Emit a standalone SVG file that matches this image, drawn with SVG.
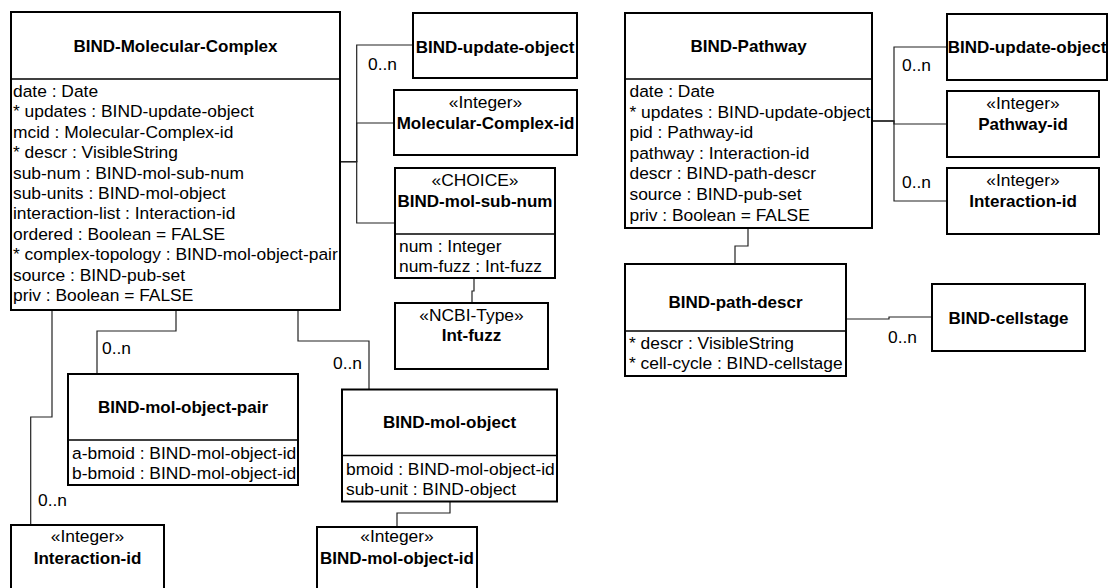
<svg xmlns="http://www.w3.org/2000/svg" width="1109" height="588" viewBox="0 0 1109 588">
<style>
.box{fill:#fff;stroke:#000;stroke-width:2}
.dv{stroke:#000;stroke-width:1.6}
.conn path{fill:none;stroke:#222;stroke-width:1.2}
text{font-family:"Liberation Sans",Arial,Helvetica,sans-serif;font-size:17.4px;fill:#000}
.b{font-weight:bold;font-size:17px;text-anchor:middle}
.c{text-anchor:middle}
</style>
<rect x="0" y="0" width="1109" height="588" fill="#fff"/>
<g id="connectors" class="conn">
<path d="M340,161.7H356.7V45H413"/>
<path d="M340,161.7H356.7V123H394"/>
<path d="M340,161.7H356.7V223H395"/>
<path d="M474,278V291H472V303"/>
<path d="M52,310V417H30.7V525"/>
<path d="M176,310V331H97V374"/>
<path d="M298,310V341H369V389.5"/>
<path d="M450,501.5V513H397V527"/>
<path d="M872,121H894V47H947"/>
<path d="M872,121H894V124H947"/>
<path d="M872,121H894V201H947"/>
<path d="M748,228V246H735V264"/>
<path d="M846,319H889V317H932"/>
</g>
<g id="labels">
<text x="368" y="70">0..n</text>
<text x="102" y="354">0..n</text>
<text x="333" y="369">0..n</text>
<text x="38" y="506">0..n</text>
<text x="902" y="71">0..n</text>
<text x="902" y="188">0..n</text>
<text x="888" y="343">0..n</text>
</g>
<g id="bind-molecular-complex">
<rect class="box" x="11" y="12" width="329" height="298"/>
<line class="dv" x1="11" y1="79" x2="340" y2="79"/>
<text class="b" x="175.5" y="52">BIND-Molecular-Complex</text>
<text x="13" y="97">date : Date</text>
<text x="13" y="117.4">* updates : BIND-update-object</text>
<text x="13" y="137.8">mcid : Molecular-Complex-id</text>
<text x="13" y="158.2">* descr : VisibleString</text>
<text x="13" y="178.6">sub-num : BIND-mol-sub-num</text>
<text x="13" y="199">sub-units : BIND-mol-object</text>
<text x="13" y="219.4">interaction-list : Interaction-id</text>
<text x="13" y="239.8">ordered : Boolean = FALSE</text>
<text x="13" y="260.2">* complex-topology : BIND-mol-object-pair</text>
<text x="13" y="280.6">source : BIND-pub-set</text>
<text x="13" y="301">priv : Boolean = FALSE</text>
</g>
<g id="bind-update-object-1">
<rect class="box" x="413" y="13" width="164" height="65"/>
<text class="b" x="495" y="52.5">BIND-update-object</text>
</g>
<g id="molecular-complex-id">
<rect class="box" x="394" y="90" width="183" height="65"/>
<text class="c" x="485.5" y="107.5">«Integer»</text>
<text class="b" x="485.5" y="129">Molecular-Complex-id</text>
</g>
<g id="bind-mol-sub-num">
<rect class="box" x="395" y="168" width="160" height="110"/>
<line class="dv" x1="395" y1="234" x2="555" y2="234"/>
<text class="c" x="475" y="185.5">«CHOICE»</text>
<text class="b" x="475" y="206.5">BIND-mol-sub-num</text>
<text x="399" y="252">num : Integer</text>
<text x="399" y="272">num-fuzz : Int-fuzz</text>
</g>
<g id="int-fuzz">
<rect class="box" x="395" y="303" width="153" height="66"/>
<text class="c" x="471.5" y="320.5">«NCBI-Type»</text>
<text class="b" x="471.5" y="341">Int-fuzz</text>
</g>
<g id="bind-mol-object-pair">
<rect class="box" x="68" y="374" width="230" height="111"/>
<line class="dv" x1="68" y1="440" x2="298" y2="440"/>
<text class="b" x="183" y="413">BIND-mol-object-pair</text>
<text x="72" y="458.5">a-bmoid : BIND-mol-object-id</text>
<text x="72" y="478.5">b-bmoid : BIND-mol-object-id</text>
</g>
<g id="bind-mol-object">
<rect class="box" x="342" y="389.5" width="215" height="112"/>
<line class="dv" x1="342" y1="455.5" x2="557" y2="455.5"/>
<text class="b" x="449.5" y="428">BIND-mol-object</text>
<text x="346" y="474.5">bmoid : BIND-mol-object-id</text>
<text x="346" y="494.5">sub-unit : BIND-object</text>
</g>
<g id="interaction-id-1">
<rect class="box" x="11" y="525" width="153" height="72"/>
<text class="c" x="87.5" y="542">«Integer»</text>
<text class="b" x="87.5" y="564">Interaction-id</text>
</g>
<g id="bind-mol-object-id">
<rect class="box" x="317" y="527" width="160" height="72"/>
<text class="c" x="397" y="542">«Integer»</text>
<text class="b" x="397" y="564">BIND-mol-object-id</text>
</g>
<g id="bind-pathway">
<rect class="box" x="625" y="13" width="247" height="215"/>
<line class="dv" x1="625" y1="79" x2="872" y2="79"/>
<text class="b" x="748.5" y="52">BIND-Pathway</text>
<text x="629.5" y="97">date : Date</text>
<text x="629.5" y="117.6">* updates : BIND-update-object</text>
<text x="629.5" y="138.2">pid : Pathway-id</text>
<text x="629.5" y="158.8">pathway : Interaction-id</text>
<text x="629.5" y="179.4">descr : BIND-path-descr</text>
<text x="629.5" y="200">source : BIND-pub-set</text>
<text x="629.5" y="220.6">priv : Boolean = FALSE</text>
</g>
<g id="bind-update-object-2">
<rect class="box" x="947" y="14" width="160" height="66"/>
<text class="b" x="1027" y="53">BIND-update-object</text>
</g>
<g id="pathway-id">
<rect class="box" x="947" y="91" width="152" height="66"/>
<text class="c" x="1023" y="108.5">«Integer»</text>
<text class="b" x="1023" y="129.5">Pathway-id</text>
</g>
<g id="interaction-id-2">
<rect class="box" x="947" y="168" width="152" height="66"/>
<text class="c" x="1023" y="185.5">«Integer»</text>
<text class="b" x="1023" y="206.5">Interaction-id</text>
</g>
<g id="bind-path-descr">
<rect class="box" x="625" y="264" width="221" height="112"/>
<line class="dv" x1="625" y1="331" x2="846" y2="331"/>
<text class="b" x="735.5" y="308">BIND-path-descr</text>
<text x="629" y="349">* descr : VisibleString</text>
<text x="629" y="369.4">* cell-cycle : BIND-cellstage</text>
</g>
<g id="bind-cellstage">
<rect class="box" x="932" y="284" width="153" height="67"/>
<text class="b" x="1008.5" y="324">BIND-cellstage</text>
</g>
</svg>
